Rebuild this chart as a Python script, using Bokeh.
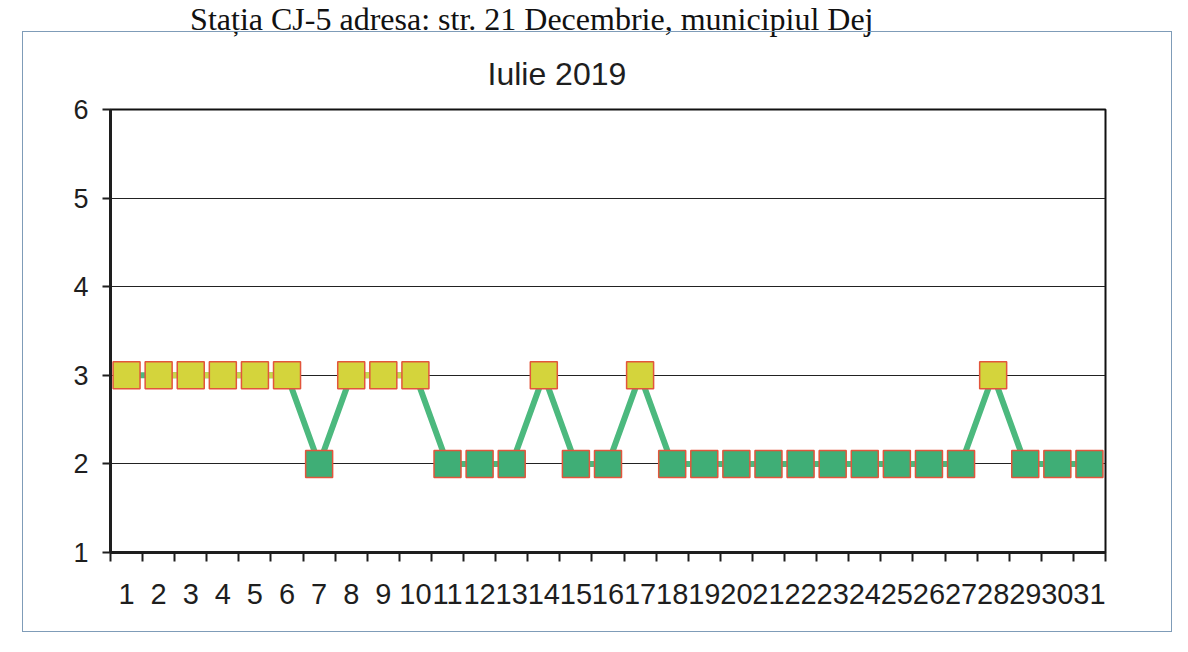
from bokeh.plotting import figure
from bokeh.models import FixedTicker, Title, Range1d, InlineStyleSheet
from bokeh.embed import file_html
from bokeh.resources import INLINE

# ---- data ----
title_text = "Iulie 2019"
header_text = "Stația CJ-5 adresa: str. 21 Decembrie, municipiul Dej"
days = list(range(1, 32))
values = [3, 3, 3, 3, 3, 3, 2, 3, 3, 3, 2, 2, 2, 3, 2, 2, 3,
          2, 2, 2, 2, 2, 2, 2, 2, 2, 2, 3, 2, 2, 2]
y_ticks = [1, 2, 3, 4, 5, 6]
day_labels = {d: str(d) for d in days}

# ---- styles ----
YELLOW = "#d4d43c"
GREEN = "#3fae76"
EDGE = "#e2553c"
LINE_G = "#4cb97e"
LINE_Y = "#cbd84c"
INK = "#1e1e1e"
FONT = "Liberation Sans"

p = figure(frame_width=995, frame_height=443,
           min_border_left=110, min_border_right=83,
           min_border_top=109, min_border_bottom=100,
           x_range=Range1d(0.5, 31.5), y_range=Range1d(1, 6),
           output_backend="svg", toolbar_location=None)

p.background_fill_color = "white"
p.border_fill_color = "white"
p.outline_line_color = "#111111"
p.outline_line_width = 2

# thin outer chart-area border (decoration only)
border_css = """
:host { position: relative; }
:host::after, .bk-Canvas::after {
  content: ""; position: absolute; left: 22px; top: 31px;
  width: 1150px; height: 601px; box-sizing: border-box;
  border: 1.5px solid #7f9cb8; pointer-events: none; z-index: 50;
}
"""
p.stylesheets = [InlineStyleSheet(css=border_css)]

# line (green), with yellow segments between consecutive high points
p.line(days, values, line_color=LINE_G, line_width=6)
x0, y0, x1, y1 = [], [], [], []
for i in range(1, len(days) - 1):
    if values[i] == 3 and values[i + 1] == 3:
        x0.append(days[i]); y0.append(values[i])
        x1.append(days[i + 1]); y1.append(values[i + 1])
p.segment(x0, y0, x1, y1, line_color=LINE_Y, line_width=6)

colors = [YELLOW if v >= 3 else GREEN for v in values]
p.scatter(days, values, marker="square", size=27, fill_color=colors,
          line_color=EDGE, line_width=1.5)

# x axis: labels at category centres, tick marks at boundaries
xa = p.xaxis[0]
xa.ticker = FixedTicker(ticks=days, minor_ticks=[d - 0.5 for d in days] + [days[-1] + 0.5])
xa.major_label_overrides = day_labels
xa.major_tick_line_color = None
xa.major_tick_out = 0
xa.major_tick_in = 0
xa.minor_tick_out = 9
xa.minor_tick_in = 0
xa.minor_tick_line_color = INK
xa.minor_tick_line_width = 2
xa.axis_line_color = INK
xa.axis_line_width = 3
xa.major_label_text_font = FONT
xa.major_label_text_font_size = "29px"
xa.major_label_text_color = INK
xa.major_label_standoff = 22

ya = p.yaxis[0]
ya.ticker = FixedTicker(ticks=y_ticks)
ya.minor_tick_line_color = None
ya.major_tick_out = 8
ya.major_tick_in = 0
ya.major_tick_line_color = INK
ya.major_tick_line_width = 2
ya.axis_line_color = INK
ya.axis_line_width = 3
ya.major_label_text_font = FONT
ya.major_label_text_font_size = "27px"
ya.major_label_text_color = INK
ya.major_label_standoff = 14

p.xgrid.grid_line_color = None
p.ygrid.ticker = FixedTicker(ticks=y_ticks)
p.ygrid.grid_line_color = "#222222"
p.ygrid.grid_line_width = 1.2

# chart title, a thin spacer, and the scanned page header (outermost)
t_chart = Title(text=title_text, align="left", offset=377, standoff=36,
                vertical_align="bottom",
                text_font=FONT, text_font_size="32px", text_font_style="normal",
                text_color=INK)
t_gap = Title(text=" ", standoff=4, text_font_size="1px")
t_header = Title(text=header_text, align="right", offset=232, standoff=-21,
                 vertical_align="top",
                 text_font="Liberation Serif", text_font_size="32px",
                 text_font_style="normal", text_color="#111111")
p.add_layout(t_chart, "above")
p.add_layout(t_gap, "above")
p.add_layout(t_header, "above")

open("out.html", "w").write(file_html(p, INLINE))
